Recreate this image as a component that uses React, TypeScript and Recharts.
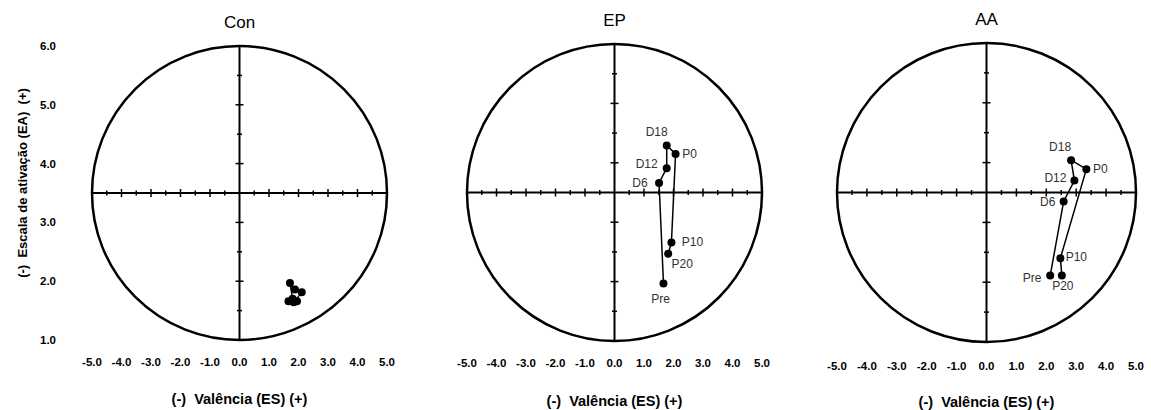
import React from "react";
import {
  ScatterChart,
  Scatter,
  XAxis,
  YAxis,
  ReferenceLine,
  ReferenceArea,
} from "recharts";

const FONT = '"Liberation Sans", Arial, Helvetica, sans-serif';

// stages in the order they are joined by the line
const stages = ["Pre", "D6", "D12", "D18", "P0", "P10", "P20"];

const conValencia = [1.66, 1.95, 1.8, 1.71, 1.88, 2.11, 1.84];
const conAtivacao = [1.66, 1.66, 1.7, 1.97, 1.86, 1.81, 1.64];

const epValencia = [1.66, 1.51, 1.77, 1.77, 2.07, 1.93, 1.82];
const epAtivacao = [1.97, 3.66, 3.91, 4.29, 4.15, 2.66, 2.47];

const aaValencia = [2.13, 2.58, 2.94, 2.83, 3.34, 2.47, 2.52];
const aaAtivacao = [2.11, 3.35, 3.7, 4.04, 3.89, 2.4, 2.11];

const xTicks = [-5, -4, -3, -2, -1, 0, 1, 2, 3, 4, 5];
const yTicks = [1, 2, 3, 4, 5, 6];
// small tick marks drawn on the cross through the centre
const xMarks = [-4.5, -4, -3.5, -3, -2.5, -2, -1.5, -1, -0.5, 0.5, 1, 1.5, 2, 2.5, 3, 3.5, 4, 4.5];
const yMarks = [1.5, 2, 2.5, 3, 4, 4.5, 5, 5.5];
const xCentre = 0;
const yCentre = 3.5;

// label offsets (px) from the dot centre
const epLabelPos: Record<string, [number, number]> = {
  Pre: [-3, 16],
  D6: [-19, 0],
  D12: [-20, -4],
  D18: [-10, -14],
  P0: [14, 0],
  P10: [21, 0],
  P20: [14, 10],
};
const aaLabelPos: Record<string, [number, number]> = {
  Pre: [-18, 2],
  D6: [-16, 1],
  D12: [-19, -3],
  D18: [-11, -13],
  P0: [14, 0],
  P10: [16, -1],
  P20: [1, 10],
};

function toRows(xs: number[], ys: number[]) {
  return stages.map((s, i) => ({ name: s, x: xs[i], y: ys[i] }));
}

const hMarkData = xMarks.map((x) => ({ x, y: yCentre }));
const vMarkData = yMarks.map((y) => ({ x: xCentre, y }));

function HTick(props: any) {
  const { cx, cy, payload } = props;
  const h = Number.isInteger(payload.x) ? 4 : 2.5;
  return <line x1={cx} x2={cx} y1={cy - h} y2={cy + h} stroke="#000" strokeWidth={1.5} />;
}

function VTick(props: any) {
  const { cx, cy, payload } = props;
  const h = Number.isInteger(payload.y) ? 4 : 2.5;
  return <line x1={cx - h} x2={cx + h} y1={cy} y2={cy} stroke="#000" strokeWidth={1.5} />;
}

function makeDot(pos?: Record<string, [number, number]>) {
  return (props: any) => {
    const { cx, cy, payload } = props;
    const off = pos ? pos[payload.name] : null;
    return (
      <g>
        <circle cx={cx} cy={cy} r={4} fill="#000" />
        {off && (
          <text
            x={cx + off[0]}
            y={cy + off[1]}
            textAnchor="middle"
            dominantBaseline="central"
            fontSize={12}
            fontFamily={FONT}
            fill="#333"
          >
            {payload.name}
          </text>
        )}
      </g>
    );
  };
}

function Ellipse(props: any) {
  const { x, y, width, height } = props;
  return (
    <ellipse
      cx={x + width / 2}
      cy={y + height / 2}
      rx={width / 2}
      ry={height / 2}
      fill="none"
      stroke="#000"
      strokeWidth={2.5}
    />
  );
}

interface PanelProps {
  title: string;
  rows: { name: string; x: number; y: number }[];
  left: number;
  width: number;
  margin: { top: number; right: number; bottom: number; left: number };
  tickMargin: number;
  titleY: number;
  labelY: number;
  showY?: boolean;
  labelPos?: Record<string, [number, number]>;
}

const HEIGHT = 410;
const tickStyle = { fontSize: 11.5, fontWeight: "bold", fill: "#000", fontFamily: FONT };

function Panel({ title, rows, left, width, margin, tickMargin, titleY, labelY, showY, labelPos }: PanelProps) {
  const yw = showY ? 40 : 0;
  const plotLeft = margin.left + yw;
  const plotW = width - plotLeft - margin.right;
  const cx = plotLeft + plotW / 2;
  return (
    <div style={{ position: "absolute", left, top: 0 }}>
      <ScatterChart width={width} height={HEIGHT} margin={margin}>
        <XAxis
          type="number"
          dataKey="x"
          domain={[-5, 5]}
          ticks={xTicks}
          interval={0}
          allowDataOverflow
          axisLine={false}
          tickLine={false}
          height={30}
          tickMargin={tickMargin}
          tickFormatter={(v: number) => v.toFixed(1)}
          tick={tickStyle}
        />
        <YAxis
          type="number"
          dataKey="y"
          domain={[1, 6]}
          ticks={yTicks}
          interval={0}
          allowDataOverflow
          hide={!showY}
          width={yw}
          axisLine={false}
          tickLine={false}
          tickMargin={30}
          tickFormatter={(v: number) => v.toFixed(1)}
          tick={tickStyle}
        />
        <ReferenceArea x1={-5} x2={5} y1={1} y2={6} shape={<Ellipse />} />
        <ReferenceLine x={xCentre} stroke="#000" strokeWidth={2} />
        <ReferenceLine y={yCentre} stroke="#000" strokeWidth={2} />
        <Scatter data={hMarkData} shape={<HTick />} isAnimationActive={false} />
        <Scatter data={vMarkData} shape={<VTick />} isAnimationActive={false} />
        <Scatter
          data={rows}
          line={{ stroke: "#000", strokeWidth: 1.5 }}
          lineType="joint"
          shape={makeDot(labelPos)}
          isAnimationActive={false}
        />
        <text x={cx} y={titleY} textAnchor="middle" fontSize={17} fontFamily={FONT} fill="#000">
          {title}
        </text>
        <text
          x={cx}
          y={labelY}
          textAnchor="middle"
          fontSize={14.5}
          fontWeight="bold"
          fontFamily={FONT}
          fill="#000"
          style={{ whiteSpace: "pre" }}
        >
          {"(-)  Valência (ES) (+)"}
        </text>
        {showY && (
          <text
            x={0}
            y={0}
            transform="translate(27,183) rotate(-90)"
            textAnchor="middle"
            fontSize={13}
            fontWeight="bold"
            fontFamily={FONT}
            fill="#000"
            style={{ whiteSpace: "pre" }}
          >
            {"(-)  Escala de ativação (EA)  (+)"}
          </text>
        )}
      </ScatterChart>
    </div>
  );
}

export default function App() {
  return (
    <div style={{ position: "absolute", left: 0, top: 0, width: 1151, height: HEIGHT, background: "#fff" }}>
      <Panel
        title="Con"
        rows={toRows(conValencia, conAtivacao)}
        left={0}
        width={400}
        margin={{ top: 46, right: 13, bottom: 40, left: 52 }}
        tickMargin={12}
        titleY={28}
        labelY={404}
        showY
      />
      <Panel
        title="EP"
        rows={toRows(epValencia, epAtivacao)}
        left={380}
        width={400}
        margin={{ top: 44, right: 18, bottom: 39, left: 87 }}
        tickMargin={12}
        titleY={26}
        labelY={406}
        labelPos={epLabelPos}
      />
      <Panel
        title="AA"
        rows={toRows(aaValencia, aaAtivacao)}
        left={770}
        width={381}
        margin={{ top: 43, right: 15, bottom: 38, left: 67 }}
        tickMargin={14}
        titleY={24.5}
        labelY={407}
        labelPos={aaLabelPos}
      />
    </div>
  );
}
